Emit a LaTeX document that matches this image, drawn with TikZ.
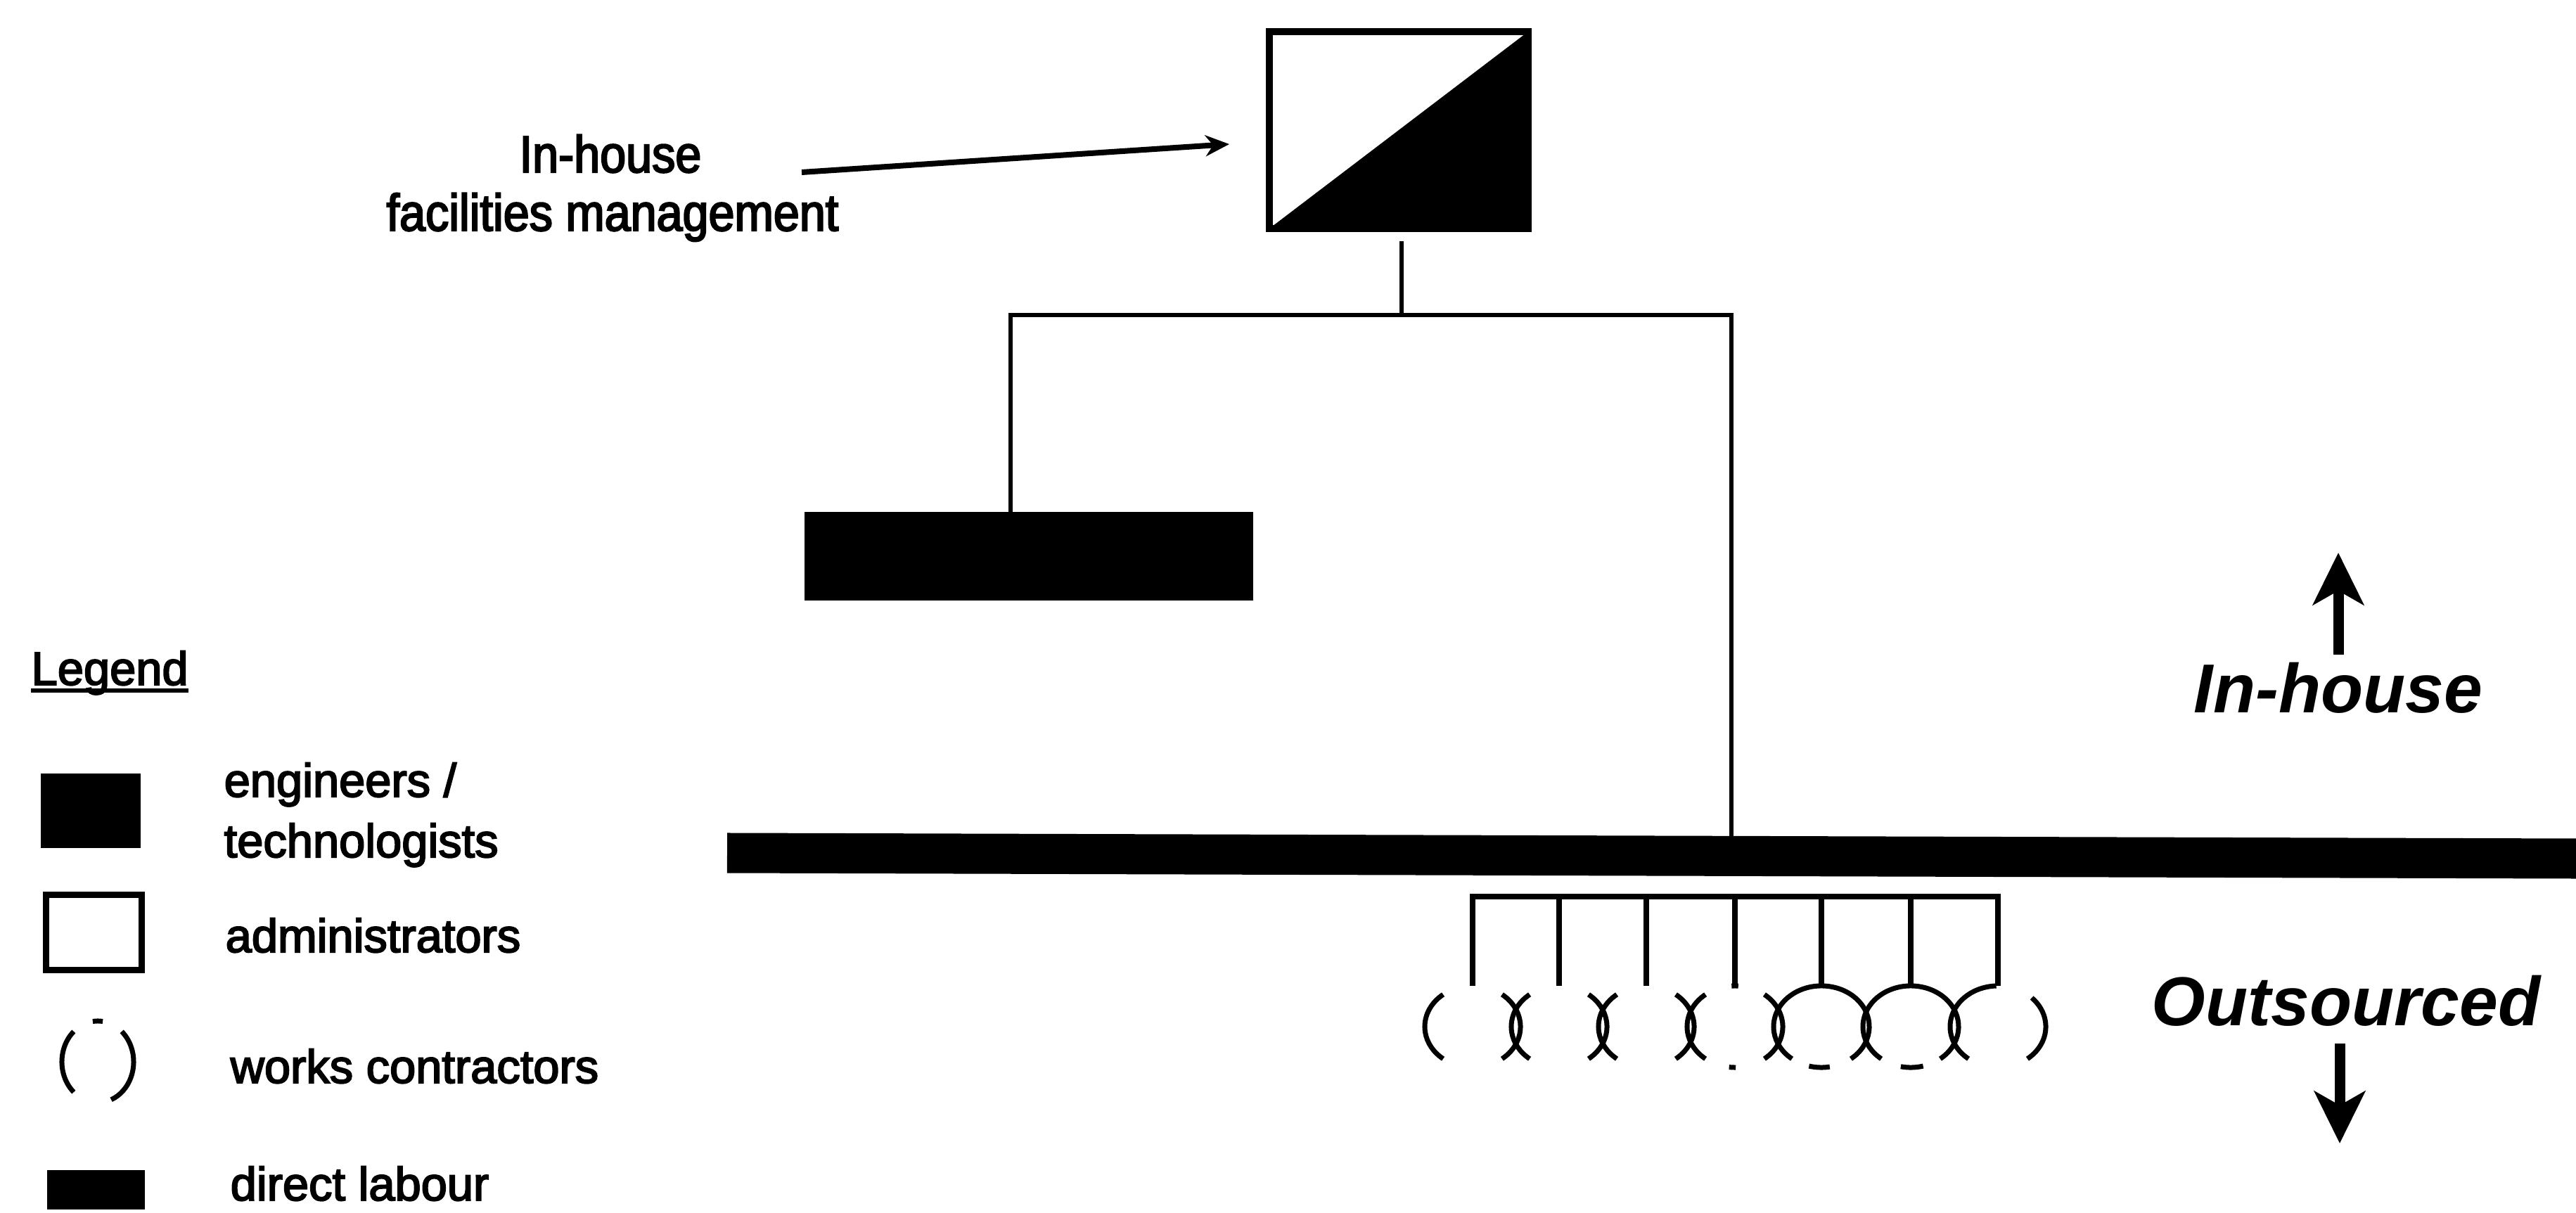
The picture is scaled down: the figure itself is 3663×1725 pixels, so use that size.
\documentclass[tikz,border=0pt]{standalone}
\usepackage{fontspec}
\setmainfont{Liberation Sans}
\newfontfamily\condfont[FakeStretch=0.9,FakeBold=3]{Liberation Sans}
\newfontfamily\lgfont[FakeBold=3]{Liberation Sans}
\usetikzlibrary{arrows.meta,shapes.geometric,calc}
\newcommand\contarc[5]{\draw[carc] ($(#1.center)+(#2:#4 and #5)$) arc[start angle=#2, end angle=#3, x radius=#4, y radius=#5];}
\begin{document}
\begin{tikzpicture}[x=0.01cm,y=0.01cm,
  conn/.style={line width=0.06cm, line join=miter},
  combline/.style={line width=0.08cm, line join=miter},
  carc/.style={line width=0.07cm},
  toplbl/.style={font=\condfont\fontsize{21pt}{24pt}\selectfont, anchor=base, inner sep=0},
  lgtext/.style={font=\lgfont\fontsize{19pt}{22pt}\selectfont, anchor=base west, inner sep=0},
  bigtxt/.style={font=\bfseries\itshape\fontsize{28pt}{32pt}\selectfont, anchor=base, inner sep=0},
  bigarr/.style={line width=0.15cm, -{Stealth[length=0.74cm,width=0.72cm,inset=0.2cm]}},
  cnode/.style={ellipse, minimum width=1.36cm, minimum height=1.16cm, inner sep=0, outer sep=0},
  blk/.style={fill=black, inner sep=0, outer sep=0}
]
\useasboundingbox (0,0) rectangle (3663,-1725);
\fill[white] (0,0) rectangle (3663,-1725);

% top box: in-house facilities management
\node[draw, line width=0.1cm, minimum width=3.68cm, minimum height=2.8cm, inner sep=0, outer sep=0] (fm) at (1989,-185) {};
\fill (fm.south west) -- (fm.north east) -- (fm.south east) -- cycle;

% label and arrow
\node[toplbl] (lab1) at (868,-245) {In-house};
\node[toplbl] (lab2) at (871,-328) {facilities management};
\coordinate (arrS) at (1140,-245);
\coordinate (arrE) at (1748,-205);
\draw[line width=0.08cm, -{Stealth[length=0.34cm,width=0.3cm]}] (arrS) -- (arrE);

% tree
\coordinate (j0) at (1993,-448);
\coordinate (jl) at (1437,-448);
\coordinate (jr) at (2462,-448);
\coordinate (sepT) at (2462,-1195);
\node[blk, minimum width=6.37cm, minimum height=1.25cm] (dl) at (1463,-791) {};
\draw[conn] ($(fm.south -| j0)+(0,-18)$) -- (j0);
\draw[conn] (dl.north -| jl) -- (jl) -- (jr) -- (sepT);

% separator
\coordinate (sepL) at (1034,-1213);
\coordinate (sepR) at (3663,-1221);
\draw[line width=0.57cm] (sepL) -- (sepR);

% contractors
\foreach \i/\x in {1/2094,2/2217,3/2341,4/2467,5/2590,6/2717,7/2841}
  \node[cnode] (e\i) at (\x,-1460) {};
\coordinate (cb) at (2094,-1275);
\draw[combline] (e1.north) -- (e1.north |- cb) -- (e7.north |- cb) -- (e7.north);
\foreach \i in {2,...,6}
  \draw[combline] (e\i.north |- cb) -- (e\i.north);
\foreach \i in {1,2,3,4}{
  \contarc{e\i}{128}{232}{0.68cm}{0.58cm}
  \contarc{e\i}{-52}{52}{0.68cm}{0.58cm}
}
\contarc{e4}{86}{94}{0.68cm}{0.58cm}
\contarc{e4}{263}{271}{0.68cm}{0.58cm}
\contarc{e5}{-52}{232}{0.68cm}{0.58cm}
\contarc{e5}{255}{280}{0.68cm}{0.58cm}
\contarc{e6}{-52}{232}{0.68cm}{0.58cm}
\contarc{e6}{258}{285}{0.68cm}{0.58cm}
\contarc{e7}{92}{232}{0.68cm}{0.58cm}
\contarc{e7}{-52}{45}{0.68cm}{0.58cm}

% right side labels
\node[bigtxt] (inh) at (3325,-1013) {In-house};
\node[bigtxt] (outs) at (3336,-1458) {Outsourced};
\coordinate (upT) at (3325,-786);
\coordinate (dnB) at (3327,-1626);
\draw[bigarr] ($(inh.north)+(0,10)$) -- (upT);
\draw[bigarr] ($(outs.south)+(-9,-24)$) -- (dnB);

% legend
\node[lgtext] (lgd) at (44,-974) {Legend};
\draw[line width=0.05cm] ($(lgd.base west)+(0,-8)$) -- ($(lgd.base east)+(0,-8)$);
\node[blk, minimum width=1.42cm, minimum height=1.06cm] (lsE) at (129,-1153) {};
\node[draw, line width=0.09cm, minimum width=1.35cm, minimum height=1.06cm, inner sep=0, outer sep=0] (lsA) at (133.5,-1326) {};
\node[ellipse, minimum width=1.02cm, minimum height=1.16cm, inner sep=0, outer sep=0] (lsC) at (139,-1510) {};
\contarc{lsC}{132}{228}{0.51cm}{0.58cm}
\contarc{lsC}{-68}{48}{0.51cm}{0.58cm}
\contarc{lsC}{82}{98}{0.51cm}{0.58cm}
\node[blk, minimum width=1.39cm, minimum height=0.56cm] (lsD) at (136.5,-1692) {};

\node[lgtext] (tE1) at (318,-1133) {engineers /};
\node[lgtext] (tE2) at (318,-1219) {technologists};
\node[lgtext] (tA) at (320,-1354) {administrators};
\node[lgtext] (tC) at (327,-1540) {works contractors};
\node[lgtext] (tD) at (327,-1707) {direct labour};
\end{tikzpicture}
\end{document}
